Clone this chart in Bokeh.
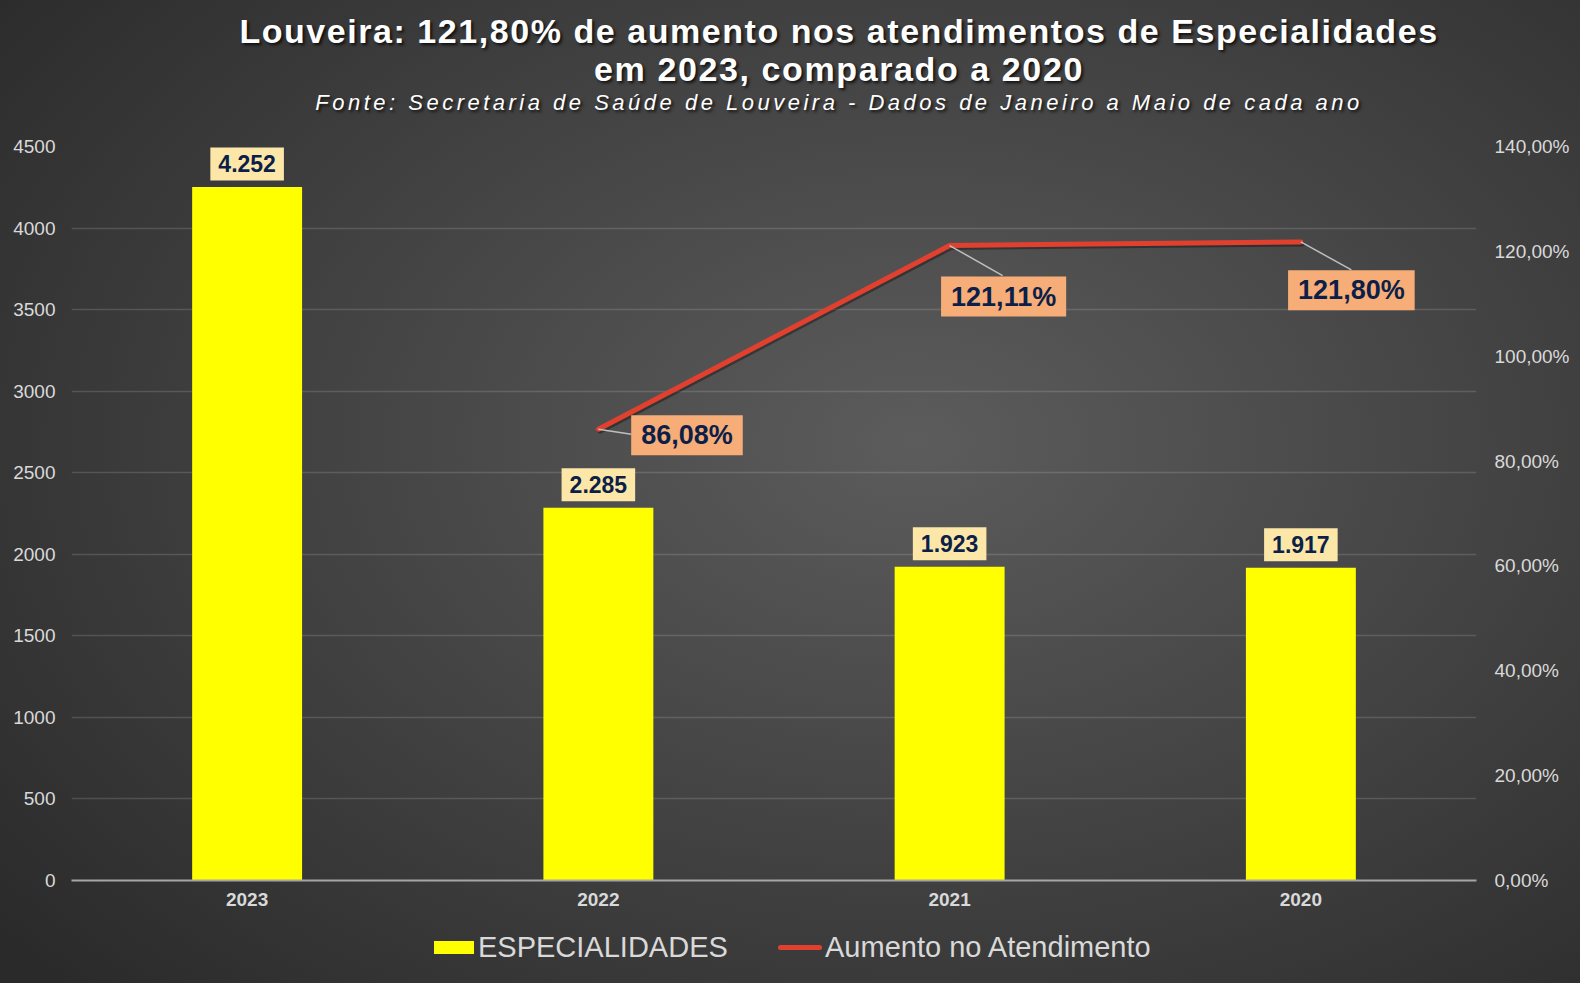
import numpy as np
from bokeh.plotting import figure
from bokeh.layouts import column
from bokeh.models import (Range1d, LinearAxis, FixedTicker, Div)
from bokeh.core.properties import value
from bokeh.embed import file_html
from bokeh.resources import INLINE

# ---------------- data ----------------
years = ["2023", "2022", "2021", "2020"]
especialidades = [4252, 2285, 1923, 1917]
aumento_pct = [np.nan, 86.08, 121.11, 121.80]
bar_labels = ["4.252", "2.285", "1.923", "1.917"]
pct_labels = ["86,08%", "121,11%", "121,80%"]
left_ticks = [0, 500, 1000, 1500, 2000, 2500, 3000, 3500, 4000, 4500]
right_ticks = [0, 20, 40, 60, 80, 100, 120, 140]
series_names = ["ESPECIALIDADES", "Aumento no Atendimento"]

title1 = "Louveira: 121,80% de aumento nos atendimentos de Especialidades"
title2 = "em 2023, comparado a 2020"
subtitle = "Fonte: Secretaria de Saúde de Louveira - Dados de Janeiro a Maio de cada ano"

# ---------------- layout constants ----------------
W, H = 1580, 983
HEAD = 126
FOOT = 60
FL, FR, FT, FB = 71, 104, 20, 43
FW = W - FL - FR
FH = H - HEAD - FOOT - FT - FB
FONT = "Liberation Sans"
LIGHT = "#d9d9d9"
NAVY = "#0c1f48"
BAR_COLOR = "#ffff00"
LINE_COLOR = "#e2402f"

idx = np.arange(len(years))
px_x = FW / len(years)          # pixels per category unit
px_left = FH / left_ticks[-1]   # pixels per count
px_right = FH / right_ticks[-1] # pixels per percent point

# ---------------- heading ----------------
def line_html(txt, top, size, style, spacing):
    weight = "bold" if style == "bold" else "normal"
    fstyle = "italic" if style == "italic" else "normal"
    return (f'<div style="position:absolute;left:139px;width:1400px;top:{top}px;'
            f'text-align:center;white-space:nowrap;font-family:\'{FONT}\';font-size:{size}px;'
            f'line-height:{size}px;font-weight:{weight};font-style:{fstyle};color:white;'
            f'letter-spacing:{spacing}px;text-shadow:2px 2px 3px rgba(0,0,0,0.75);">{txt}</div>')

head_html = ('<div style="position:relative;width:%dpx;height:%dpx;">' % (W, HEAD)
             + line_html(title1, 14, 34, "bold", 1.55)
             + line_html(title2, 52, 34, "bold", 1.6)
             + line_html(subtitle, 92, 22, "italic", 3.5)
             + '</div>')
head = Div(text=head_html, width=W, height=HEAD, margin=0)

# ---------------- figure ----------------
p = figure(frame_width=FW, frame_height=FH, output_backend="svg", toolbar_location=None,
           x_range=Range1d(-0.5, len(years) - 0.5),
           y_range=Range1d(left_ticks[0], left_ticks[-1]),
           min_border_left=FL, min_border_right=FR, min_border_top=FT, min_border_bottom=FB,
           border_fill_color=None, background_fill_color=None, outline_line_color=None,
           margin=0)
p.extra_y_ranges = {"pct": Range1d(right_ticks[0], right_ticks[-1])}

# axes
p.xaxis.ticker = FixedTicker(ticks=list(idx))
p.xaxis.major_label_overrides = {int(i): y for i, y in zip(idx, years)}
p.xaxis.major_label_text_font = FONT
p.xaxis.major_label_text_font_size = "19px"
p.xaxis.major_label_text_font_style = "bold"
p.xaxis.major_label_text_color = LIGHT
p.xaxis.major_tick_out = 0
p.xaxis.major_label_standoff = 12
p.xaxis.axis_line_color = "#a6a6a6"
p.xaxis.axis_line_width = 2
p.xaxis.major_tick_line_color = None
p.xaxis.minor_tick_line_color = None

p.yaxis.ticker = FixedTicker(ticks=left_ticks)
p.yaxis.major_label_overrides = {t: str(t) for t in left_ticks}
p.yaxis.major_label_text_font = FONT
p.yaxis.major_label_text_font_size = "19px"
p.yaxis.major_label_text_color = LIGHT
p.yaxis.major_tick_out = 0
p.yaxis.major_label_standoff = 16
p.yaxis.axis_line_color = None
p.yaxis.major_tick_line_color = None
p.yaxis.minor_tick_line_color = None

ax_r = LinearAxis(y_range_name="pct", ticker=FixedTicker(ticks=right_ticks))
ax_r.major_label_overrides = {t: f"{t:.2f}".replace(".", ",") + "%" for t in right_ticks}
ax_r.major_label_text_font = FONT
ax_r.major_label_text_font_size = "19px"
ax_r.major_label_text_color = LIGHT
ax_r.major_tick_out = 0
ax_r.major_label_standoff = 18
ax_r.axis_line_color = None
ax_r.major_tick_line_color = None
ax_r.minor_tick_line_color = None
p.add_layout(ax_r, "right")

p.xgrid.grid_line_color = None
p.ygrid.ticker = FixedTicker(ticks=left_ticks)
p.ygrid.grid_line_color = "white"
p.ygrid.grid_line_alpha = 0.14
p.ygrid.grid_line_width = 1.5

# bars
p.vbar(x=idx, top=especialidades, width=0.313, fill_color=BAR_COLOR, line_color=None)

# bar labels
p.text(x=idx, y=np.array(especialidades) + 23 / px_left, text=bar_labels, anchor="center",
       text_font=value(FONT), text_font_size="23px", text_font_style="bold", text_color=NAVY,
       background_fill_color="#fde7a8", padding=(8, 8))

# line (with soft shadow)
p.line(x=idx + 1.5 / px_x, y=np.array(aumento_pct) - 2 / px_right, y_range_name="pct",
       line_color="black", line_alpha=0.35, line_width=5, line_join="round", line_cap="round")
p.line(x=idx, y=aumento_pct, y_range_name="pct", line_color=LINE_COLOR, line_width=5,
       line_join="round", line_cap="round")

# line labels with leader lines
lx = idx[1:]
ly = np.array(aumento_pct[1:])
lab_dx = np.array([88.6, 54, 50.5])      # label centre offset, px
lab_dy = np.array([-6, -51, -48.3])
lead_dx = np.array([33, 53, 50.5])       # leader end offset, px
lead_dy = np.array([-5, -30, -28])
p.segment(x0=lx, y0=ly, x1=lx + lead_dx / px_x, y1=ly + lead_dy / px_right, y_range_name="pct",
          line_color="#bfbfbf", line_width=1.5)
p.text(x=lx + lab_dx / px_x, y=ly + lab_dy / px_right, text=pct_labels, y_range_name="pct",
       anchor="center", text_font=value(FONT), text_font_size="27px", text_font_style="bold",
       text_color=NAVY, background_fill_color="#f7ad78", padding=(10, 5))

# ---------------- legend (below the chart) ----------------
lab_style = (f"position:absolute;top:10px;white-space:nowrap;font-family:'{FONT}';"
             f"font-size:29px;line-height:29px;color:{LIGHT};")
foot_html = (f'<div style="position:relative;width:{W}px;height:{FOOT}px;">'
             f'<div style="position:absolute;left:434px;top:18px;width:40px;height:13px;'
             f'background:{BAR_COLOR};"></div>'
             f'<div style="{lab_style}left:478px;">{series_names[0]}</div>'
             f'<div style="position:absolute;left:778px;top:22px;width:44px;height:5px;'
             f'border-radius:3px;background:{LINE_COLOR};"></div>'
             f'<div style="{lab_style}left:825px;">{series_names[1]}</div>'
             '</div>')
foot = Div(text=foot_html, width=W, height=FOOT, margin=0)

layout = column(head, p, foot, spacing=0, margin=0,
                styles={"background": "radial-gradient(ellipse 75% 80% at 58% 45%, #5c5c5c 0%, #434343 50%, #2a2a2a 100%)"})

open("out.html", "w").write(file_html(layout, INLINE))
